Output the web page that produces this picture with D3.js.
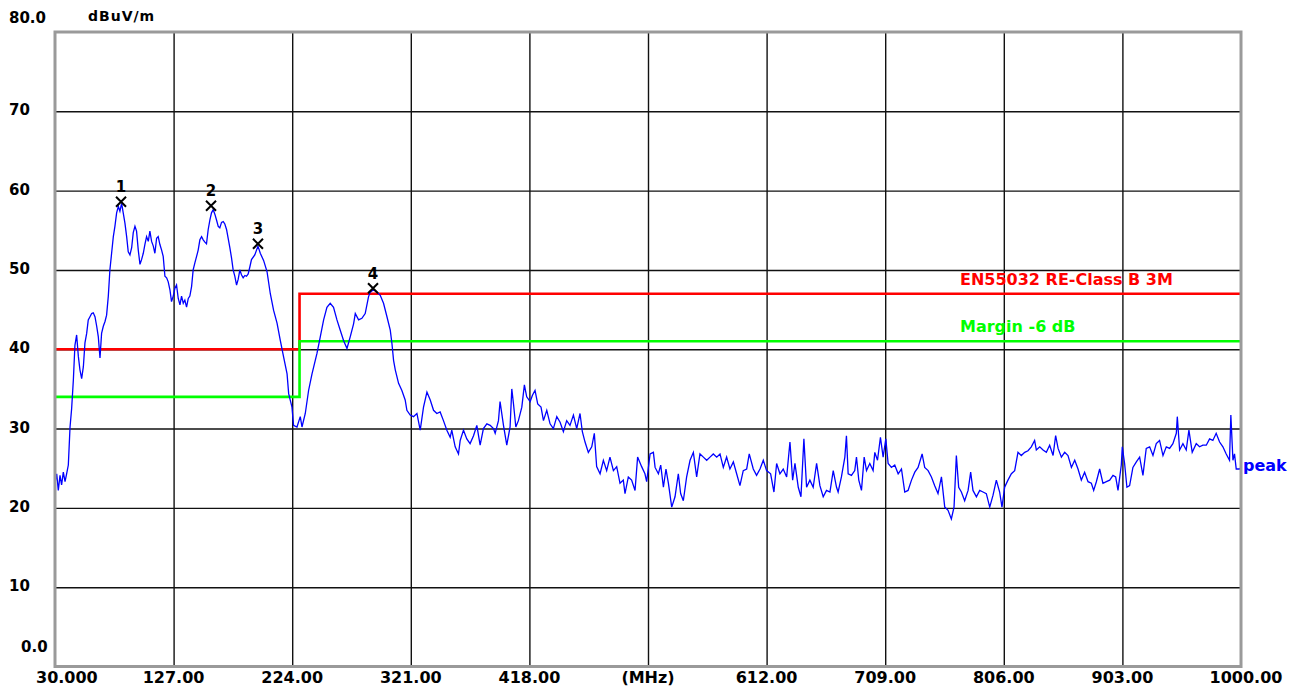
<!DOCTYPE html>
<html>
<head>
<meta charset="utf-8">
<script src="https://cdn.jsdelivr.net/npm/d3@7"></script>
<style>
  body { margin: 0; background: #fff; }
  svg text { font-family: "DejaVu Sans", sans-serif; font-weight: bold; }
</style>
</head>
<body>
<div id="chart"></div>
<script>
// Radiated emission scan, peak detector
var xTicks = [30, 127, 224, 321, 418, 515, 612, 709, 806, 903, 1000];
var xTickLabels = ["30.000", "127.00", "224.00", "321.00", "418.00", "(MHz)", "612.00", "709.00", "806.00", "903.00", "1000.00"];
var yTicks = [0, 10, 20, 30, 40, 50, 60, 70, 80];
var yTickLabels = ["0.0", "10", "20", "30", "40", "50", "60", "70", "80.0"];

// limit line EN55032 class B 3m and the -6 dB margin line (MHz, dBuV/m)
var limitLine = [[30, 40], [230, 40], [230, 47], [1000, 47]];
var marginLine = [[30, 34], [230, 34], [230, 41], [1000, 41]];

// markers (MHz, dBuV/m)
var markerFreq = [84.0, 157.6, 196.0, 290.1];
var markerLevel = [58.6, 58.1, 53.3, 47.7];
var markerNames = ["1", "2", "3", "4"];

// peak trace (MHz, dBuV/m)
var peakTrace = [
[30.0,23.1],[31.4,24.3],[32.7,22.2],[34.1,24.1],[35.4,22.9],[36.8,24.5],[38.2,23.3],[39.5,24.3],[40.9,25.4],[42.3,30.2],
[43.6,32.5],[45.0,36.1],[46.3,40.5],[47.7,41.8],[49.1,39.1],[50.4,37.4],[51.8,36.3],[53.2,37.8],[54.5,40.8],[55.9,42.0],
[57.2,43.7],[58.6,44.1],[60.0,44.5],[61.3,44.6],[62.7,44.1],[64.1,42.9],[65.4,41.6],[66.8,38.9],[68.1,42.0],[69.5,42.9],
[70.9,43.5],[72.2,44.3],[73.6,46.7],[74.9,50.0],[76.3,52.1],[77.7,54.2],[79.0,55.5],[80.4,57.2],[81.8,58.0],[83.1,57.4],
[84.5,58.4],[85.8,57.2],[87.2,55.9],[88.6,54.2],[89.9,52.3],[91.3,51.9],[92.7,52.8],[94.0,54.7],[95.4,55.5],[96.7,54.9],
[98.1,52.5],[99.5,50.7],[100.8,51.3],[102.2,52.1],[103.5,53.2],[104.9,54.2],[106.3,53.6],[107.6,54.9],[109.0,53.6],[110.4,53.0],
[111.7,52.1],[113.1,54.0],[114.4,54.2],[115.8,53.2],[117.2,52.5],[118.5,51.7],[119.9,49.2],[121.3,49.0],[122.6,48.5],[124.0,47.5],
[125.3,46.0],[126.7,46.7],[128.1,47.7],[129.4,48.1],[130.8,46.4],[132.2,45.6],[133.5,46.7],[134.9,45.8],[136.2,46.2],[137.6,45.3],
[139.0,46.4],[140.3,46.7],[141.7,47.9],[143.0,50.0],[144.4,50.9],[145.8,51.7],[147.1,52.5],[148.5,53.8],[149.9,54.2],[151.2,53.8],
[152.6,53.5],[153.9,53.3],[155.3,55.1],[156.7,56.3],[158.0,57.2],[159.4,57.6],[160.8,57.0],[162.1,56.3],[163.5,55.5],[164.8,55.3],
[166.2,56.0],[167.6,56.1],[168.9,55.8],[170.3,55.1],[171.6,54.0],[173.0,52.8],[174.4,51.5],[175.7,50.0],[177.1,49.2],[178.5,48.1],
[179.8,48.8],[181.2,50.0],[182.5,49.4],[183.9,49.0],[185.3,49.3],[186.6,49.2],[188.0,49.5],[189.4,50.4],[190.7,51.3],[193.4,51.9],
[196.0,53.0],[197.9,52.1],[200.6,51.2],[203.4,49.8],[206.1,47.0],[208.8,44.9],[211.6,43.3],[214.3,41.1],[217.0,39.0],[219.8,36.9],
[221.1,34.4],[223.8,32.7],[225.1,30.4],[227.9,30.2],[230.6,31.5],[232.0,30.2],[234.7,31.9],[237.4,34.8],[240.2,36.9],[244.3,39.5],
[247.0,41.6],[249.7,43.7],[252.4,45.3],[255.1,45.8],[257.8,45.3],[260.6,43.7],[263.3,42.4],[266.0,41.1],[268.8,40.1],[271.5,41.6],
[274.2,43.2],[275.6,44.5],[278.3,43.7],[281.0,43.9],[283.7,44.5],[286.4,46.6],[287.8,47.2],[290.5,47.5],[293.3,47.2],[296.0,46.8],
[298.7,45.8],[301.5,44.1],[304.2,42.4],[305.6,40.7],[306.9,38.6],[308.3,37.4],[311.0,35.7],[313.7,34.8],[316.4,33.6],[317.8,32.3],
[320.5,31.7],[323.2,31.5],[326.0,31.9],[328.7,29.8],[331.4,32.7],[334.2,34.6],[336.9,33.6],[339.6,32.3],[342.3,31.9],[345.0,32.1],
[347.7,31.0],[350.5,29.8],[353.2,28.9],[354.5,29.8],[357.3,27.7],[360.0,26.8],[361.4,28.5],[364.1,29.8],[366.8,28.7],[369.5,28.1],
[372.3,29.1],[375.0,30.4],[377.7,27.9],[380.4,30.0],[383.2,30.6],[385.9,30.4],[388.6,30.0],[390.0,29.4],[392.7,31.0],[394.0,33.4],
[396.8,30.4],[399.5,27.9],[402.2,30.2],[403.6,35.0],[405.0,33.1],[406.9,30.2],[409.0,31.0],[411.8,32.7],[413.9,35.5],[415.8,34.0],
[418.6,33.4],[420.5,34.2],[422.6,34.8],[424.8,33.1],[427.5,32.7],[429.5,31.0],[432.2,32.3],[434.9,30.6],[437.6,30.0],[440.4,31.5],
[443.1,30.8],[445.8,29.6],[448.5,31.0],[451.2,30.4],[454.0,31.7],[456.7,30.0],[459.4,31.9],[461.3,29.6],[463.5,28.3],[466.2,27.0],
[469.0,27.7],[471.1,29.4],[473.0,25.2],[475.8,24.3],[478.5,26.0],[481.2,24.7],[483.9,26.4],[486.7,24.7],[489.4,25.2],[492.1,23.1],
[494.8,23.5],[496.2,21.8],[498.9,23.9],[501.6,23.5],[504.4,22.2],[506.5,26.4],[509.8,25.2],[512.5,24.3],[513.9,23.3],[516.7,26.8],
[519.4,27.0],[520.8,25.1],[523.5,24.3],[525.4,25.4],[527.6,22.6],[529.7,24.9],[531.7,23.1],[534.4,20.1],[537.1,21.4],[539.8,24.3],
[541.7,21.8],[543.9,20.9],[546.6,23.9],[549.4,26.0],[552.1,27.0],[554.8,23.9],[557.5,26.8],[560.3,26.4],[563.0,26.0],[565.7,26.4],
[568.4,26.8],[571.2,26.4],[573.9,26.8],[576.6,25.1],[579.3,26.4],[582.0,24.9],[584.8,25.8],[587.5,24.3],[590.2,22.8],[592.9,24.7],
[595.7,24.9],[597.8,26.8],[601.1,24.9],[603.8,24.1],[606.6,24.9],[609.3,26.0],[612.0,24.7],[615.3,24.3],[618.0,22.0],[620.2,25.6],
[622.9,24.3],[625.6,24.9],[628.4,23.9],[631.1,28.3],[633.3,23.5],[635.2,25.6],[637.9,22.6],[640.1,21.4],[642.5,28.7],[644.7,22.6],
[647.4,23.5],[650.1,22.6],[652.9,25.6],[655.6,22.8],[658.3,21.4],[661.0,22.2],[663.8,22.0],[666.5,24.7],[669.2,22.6],[670.5,22.0],
[673.2,23.9],[676.0,26.4],[677.3,29.1],[678.7,24.3],[681.4,24.1],[684.1,24.7],[685.5,26.4],[687.4,23.5],[689.6,22.2],[691.8,26.4],
[693.7,24.7],[696.4,25.6],[699.1,24.7],[700.5,27.0],[702.7,26.0],[705.1,28.9],[707.3,26.4],[709.5,28.7],[711.4,25.6],[714.1,25.1],
[716.8,25.4],[719.6,24.3],[722.3,24.9],[725.0,22.0],[727.7,22.2],[730.5,23.5],[733.2,24.5],[735.9,25.1],[739.2,26.8],[741.3,25.1],
[744.1,24.7],[746.8,23.9],[749.5,22.8],[752.2,21.8],[755.0,23.9],[757.7,20.1],[760.4,19.7],[763.1,18.6],[765.3,20.1],[767.2,26.6],
[769.1,22.6],[771.3,22.0],[774.0,20.9],[776.8,22.2],[778.9,24.5],[780.8,22.2],[783.6,21.4],[786.3,22.2],[789.0,22.0],[791.7,21.8],
[794.5,20.1],[797.2,21.6],[799.9,23.5],[802.6,22.0],[804.5,20.1],[806.7,22.6],[809.4,23.5],[812.2,24.3],[814.9,24.7],[817.6,27.0],
[820.3,26.6],[823.1,27.0],[825.8,27.2],[828.5,27.7],[831.2,28.5],[832.6,27.3],[835.4,27.7],[838.1,27.3],[840.8,27.0],[843.5,27.9],
[846.3,26.6],[848.4,29.1],[850.4,27.5],[853.1,26.4],[855.8,27.0],[858.5,26.6],[861.3,25.1],[864.0,26.0],[866.7,24.9],[869.4,23.5],
[872.1,24.5],[874.9,23.3],[877.6,23.1],[879.5,22.2],[881.7,23.3],[884.4,24.9],[887.1,23.1],[889.9,23.3],[892.6,23.5],[895.3,24.1],
[897.5,23.9],[899.4,22.2],[902.1,25.4],[902.9,27.7],[904.8,25.6],[906.7,22.6],[908.9,22.8],[911.6,25.1],[914.4,25.8],[917.1,26.4],
[919.8,24.1],[922.5,27.5],[925.3,27.7],[928.0,26.6],[930.7,28.1],[933.4,28.5],[936.2,26.6],[938.9,27.7],[941.6,27.5],[944.3,28.1],
[947.1,29.4],[947.9,31.5],[949.8,27.3],[952.5,28.1],[955.2,27.3],[957.4,29.8],[960.1,27.0],[963.4,28.1],[966.1,27.7],[968.8,27.9],
[971.6,27.9],[974.3,28.7],[977.0,28.5],[979.7,29.4],[982.5,28.3],[985.2,27.7],[987.9,26.8],[990.6,26.0],[991.7,31.7],[993.4,26.0],
[994.7,26.8],[996.1,24.9],[998.8,24.9],[1000.0,25.1]
];

function drawChart() {
    var width = 1302, height = 691;
    var margin = {left: 55, right: 61, top: 32, bottom: 24.5};
    var plotW = width - margin.left - margin.right;
    var plotH = height - margin.top - margin.bottom;

    var x = d3.scaleLinear().domain([30, 1000]).range([margin.left, margin.left + plotW]);
    var y = d3.scaleLinear().domain([0, 80]).range([margin.top + plotH, margin.top]);

    var svg = d3.select("#chart").append("svg")
        .attr("width", width)
        .attr("height", height);

    svg.append("rect")
        .attr("width", width).attr("height", height)
        .style("fill", "#fff");

    // grid lines from the axes, labels are placed by hand below
    var xGrid = d3.axisBottom(x)
        .tickValues(xTicks.slice(1, -1))
        .tickSize(-plotH)
        .tickFormat("");
    svg.append("g")
        .attr("class", "grid")
        .attr("transform", "translate(0," + (margin.top + plotH) + ")")
        .call(xGrid);

    var yGrid = d3.axisLeft(y)
        .tickValues(yTicks.slice(1, -1))
        .tickSize(-plotW)
        .tickFormat("");
    svg.append("g")
        .attr("class", "grid")
        .attr("transform", "translate(" + margin.left + ",0)")
        .call(yGrid);

    svg.selectAll(".grid .domain").remove();
    svg.selectAll(".grid line")
        .style("stroke", "#111")
        .style("stroke-width", "1.4px");

    var line = d3.line()
        .x(function(d) { return x(d[0]); })
        .y(function(d) { return y(d[1]); });

    svg.append("path")
        .datum(limitLine)
        .attr("d", line)
        .style("fill", "none")
        .style("stroke", "#ff0000")
        .style("stroke-width", "2.6px");

    svg.append("path")
        .datum(marginLine)
        .attr("d", line)
        .style("fill", "none")
        .style("stroke", "#00ff00")
        .style("stroke-width", "2.6px");

    svg.append("path")
        .datum(peakTrace)
        .attr("d", line)
        .style("fill", "none")
        .style("stroke", "#0000ff")
        .style("stroke-width", "1.3px")
        .style("stroke-linejoin", "miter");

    // markers
    var markers = svg.selectAll(".marker")
        .data(markerFreq)
        .enter()
        .append("g")
        .attr("class", "marker")
        .attr("transform", function(d, i) {
            return "translate(" + x(d) + "," + y(markerLevel[i]) + ")";
        });
    markers.append("path")
        .attr("d", "M-5,-5L5,5M-5,5L5,-5")
        .style("stroke", "#000")
        .style("stroke-width", "2px")
        .style("fill", "none");
    markers.append("text")
        .attr("y", -9.5)
        .attr("text-anchor", "middle")
        .style("font-size", "15px")
        .style("fill", "#000")
        .text(function(d, i) { return markerNames[i]; });

    // frame
    svg.append("rect")
        .attr("x", margin.left).attr("y", margin.top)
        .attr("width", plotW).attr("height", plotH)
        .style("fill", "none")
        .style("stroke", "#9a9a9a")
        .style("stroke-width", "3px");

    // y labels
    svg.selectAll(".ylab")
        .data(yTicks)
        .enter()
        .append("text")
        .attr("class", "ylab")
        .attr("x", function(d) { return d === 0 ? 21 : 9; })
        .attr("y", function(d) {
            if (d === 80) return y(d) - 9;
            if (d === 0) return y(d) - 14.5;
            return y(d) + 4;
        })
        .style("font-size", "15px")
        .style("fill", "#000")
        .text(function(d, i) { return yTickLabels[i]; });

    // x labels
    svg.selectAll(".xlab")
        .data(xTicks)
        .enter()
        .append("text")
        .attr("class", "xlab")
        .attr("x", function(d, i) {
            if (i === 0) return 36;
            if (i === xTicks.length - 1) return x(d) + 5;
            return x(d);
        })
        .attr("y", 683)
        .attr("text-anchor", function(d, i) { return i === 0 ? "start" : "middle"; })
        .style("font-size", "16px")
        .style("fill", "#000")
        .text(function(d, i) { return xTickLabels[i]; });

    svg.append("text")
        .attr("x", 88).attr("y", 21)
        .style("font-size", "14px")
        .style("letter-spacing", "1px")
        .text("dBuV/m");

    svg.append("text")
        .attr("x", 960).attr("y", 285)
        .style("font-size", "16px")
        .style("fill", "#ff0000")
        .text("EN55032 RE-Class B 3M");

    svg.append("text")
        .attr("x", 960).attr("y", 331.5)
        .style("font-size", "16px")
        .style("fill", "#00ff00")
        .text("Margin -6 dB");

    svg.append("text")
        .attr("x", 1243).attr("y", 471)
        .style("font-size", "16px")
        .style("fill", "#0000ff")
        .text("peak");
}

drawChart();
</script>
</body>
</html>
